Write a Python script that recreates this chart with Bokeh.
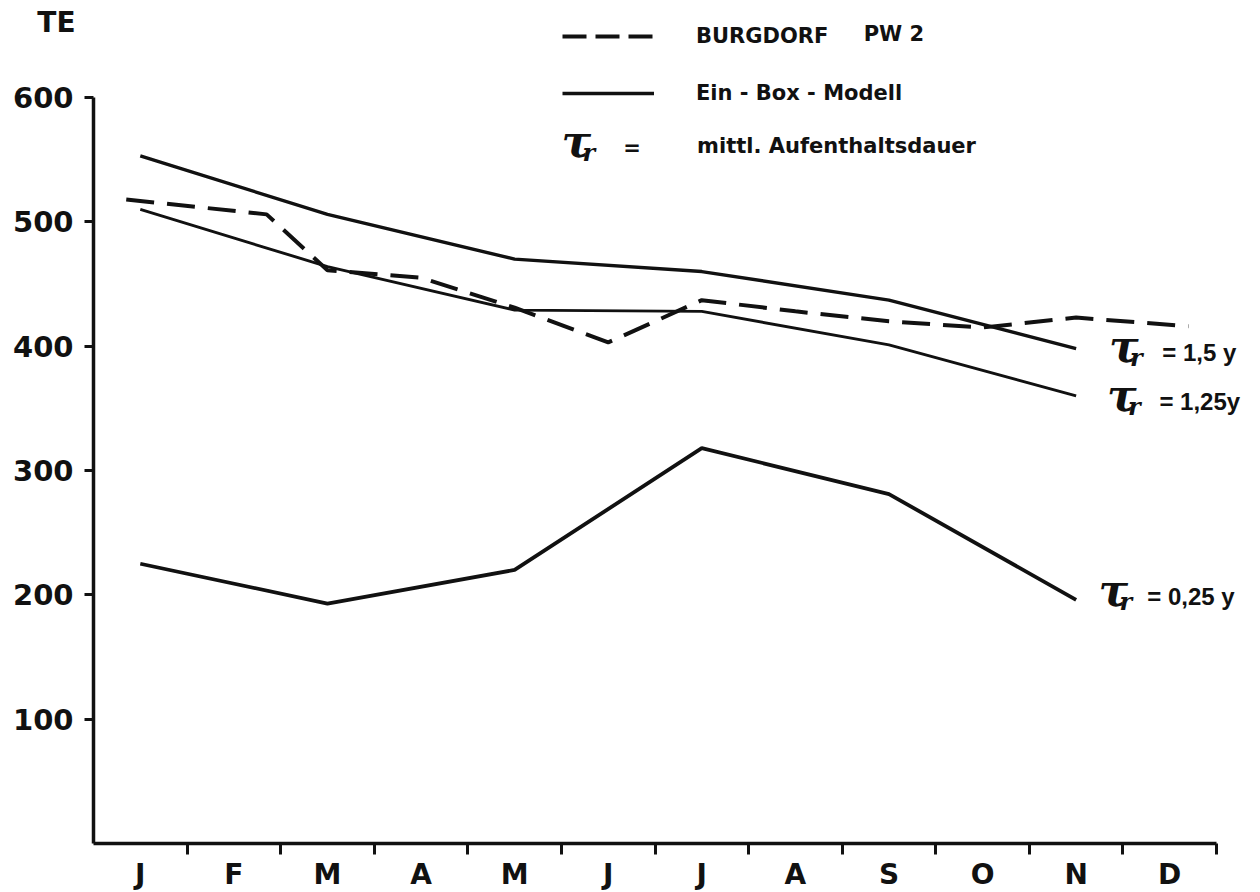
from bokeh.plotting import figure
from bokeh.models import Range1d, FixedTicker, Label, Legend, LegendItem
from bokeh.embed import file_html
from bokeh.resources import INLINE

# ---- data ----
months = ["J", "F", "M", "A", "M", "J", "J", "A", "S", "O", "N", "D"]
month_pos = [i + 0.5 for i in range(12)]          # label positions (month centres)
month_bounds = [i + 1 for i in range(12)]         # tick marks between months
y_ticks = [100, 200, 300, 400, 500, 600]

# Ein-Box-Modell (bimonthly points: J, M, M, J, S, N)
model_x = [0.5, 2.5, 4.5, 6.5, 8.5, 10.5]
tau_150 = [553, 506, 470, 460, 437, 398]
tau_125 = [510, 464, 429, 428, 401, 360]
tau_025 = [225, 193, 220, 318, 281, 196]

# BURGDORF PW 2 (measured)
burg_x = [0.35, 1.85, 2.5, 3.5, 4.5, 5.5, 6.5, 7.5, 8.5, 9.5, 10.5, 11.7]
burg_y = [518, 506, 461, 455, 431, 403, 437, 428, 420, 415, 423, 416]

NAN = float("nan")
INK = "#111111"
FONT = "DejaVu Sans"
NARROW = "Liberation Sans"

FW, FH = 1256, 890
XS = 1123 / 12.0      # px per month
YS = 746 / 600.0      # px per TE
x0_px, y0_px = 93, 843

p = figure(frame_width=FW, frame_height=FH,
           min_border=0,
           x_range=Range1d(-x0_px / XS, (FW - x0_px) / XS),
           y_range=Range1d(-(FH - y0_px) / YS, y0_px / YS),
           output_backend="svg", toolbar_location=None)
p.outline_line_color = None
p.grid.visible = False
p.background_fill_color = "white"
p.border_fill_color = "white"

# lines
r_burg = p.line(burg_x, burg_y, line_color=INK, line_width=4.0, line_dash="28 13")
r_150 = p.line(model_x, tau_150, line_color=INK, line_width=3.4)
r_125 = p.line(model_x, tau_125, line_color=INK, line_width=2.9)
r_025 = p.line(model_x, tau_025, line_color=INK, line_width=3.8)

# legend sample styles (no visible data)
leg_dash = p.line(x=[NAN], y=[NAN], line_color=INK, line_width=4.0, line_dash="24 9")
leg_solid = p.line(x=[NAN], y=[NAN], line_color=INK, line_width=3.4)

legend = Legend(items=[LegendItem(label="BURGDORF", renderers=[leg_dash]),
                       LegendItem(label="Ein - Box - Modell", renderers=[leg_solid])],
                location=(562, FH - 111), orientation="vertical",
                glyph_width=92, glyph_height=36, spacing=21, label_standoff=42,
                padding=0, margin=0, border_line_color=None, background_fill_alpha=0,
                label_text_font=FONT, label_text_font_style="bold", label_text_font_size="21px",
                label_text_color=INK, label_text_baseline="middle")
p.add_layout(legend)

# axes (drawn at the data origin)
xa = p.xaxis[0]
xa.fixed_location = 0
xa.bounds = (0, 12)
xa.ticker = FixedTicker(ticks=month_pos, minor_ticks=month_bounds)
xa.major_label_overrides = {pos: m for pos, m in zip(month_pos, months)}
xa.major_tick_line_color = None
xa.major_tick_out = 11
xa.major_tick_in = 0
xa.minor_tick_out = 11
xa.minor_tick_in = 0
xa.minor_tick_line_color = INK
xa.minor_tick_line_width = 3
xa.axis_line_color = INK
xa.axis_line_width = 3.5
xa.major_label_standoff = 3
xa.major_label_text_font = FONT
xa.major_label_text_font_style = "bold"
xa.major_label_text_font_size = "28px"
xa.major_label_text_color = INK

ya = p.yaxis[0]
ya.fixed_location = 0
ya.bounds = (0, 600)
ya.ticker = FixedTicker(ticks=y_ticks)
ya.major_tick_out = 9
ya.major_tick_in = 0
ya.major_tick_line_color = INK
ya.major_tick_line_width = 3
ya.minor_tick_line_color = None
ya.axis_line_color = INK
ya.axis_line_width = 3.5
ya.major_label_standoff = 11
ya.major_label_text_font = FONT
ya.major_label_text_font_style = "bold"
ya.major_label_text_font_size = "29px"
ya.major_label_text_color = INK


def lab(x, y, text, size="21px", font=FONT, style="bold", baseline="middle", align="left"):
    p.add_layout(Label(x=x, y=y, text=text, text_font=font, text_font_style=style,
                       text_font_size=size, text_color=INK, text_baseline=baseline,
                       text_align=align))


def tau(xt, yt):
    # tau with subscript r; offsets in data units (~21 px right, ~11 px down)
    lab(xt, yt, "τ", size="44px", font="DejaVu Serif", style="bold italic")
    lab(xt + 21 / XS, yt - 11 / YS, "r", size="24px", font="DejaVu Serif", style="bold italic")


# unit label
lab(-0.6, 660, "TE", size="28px")

# legend extras
lab(8.23, 651, "PW 2")
tau(5.00, 565.0)
lab(5.66, 559, "=")
lab(6.45, 561, "mittl. Aufenthaltsdauer")

# curve labels
tau(10.85, 400.0)
lab(11.42, 394.9, "= 1,5 y", size="24px", font=NARROW)
tau(10.83, 360.5)
lab(11.39, 355.5, "= 1,25y", size="24px", font=NARROW)
tau(10.74, 203.5)
lab(11.26, 198.7, "= 0,25 y", size="24px", font=NARROW)

open("out.html", "w").write(file_html(p, INLINE))
